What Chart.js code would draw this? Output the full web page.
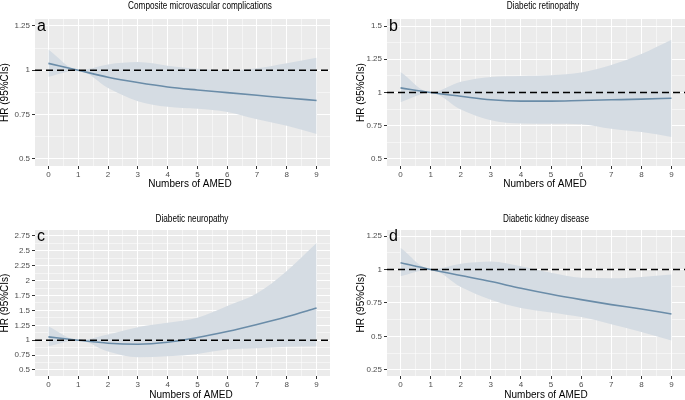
<!DOCTYPE html>
<html>
<head>
<meta charset="utf-8">
<script src="https://cdn.jsdelivr.net/npm/chart.js@4.4.1/dist/chart.umd.min.js"></script>
<style>
  body { margin: 0; background: #fff; width: 685px; height: 400px; position: relative; overflow: hidden; }
  canvas { position: absolute; }
</style>
</head>
<body>
<canvas id="panelA" width="342" height="200" style="left:0;top:0"></canvas>
<canvas id="panelB" width="343" height="200" style="left:342px;top:0"></canvas>
<canvas id="panelC" width="342" height="200" style="left:0;top:200px"></canvas>
<canvas id="panelD" width="343" height="200" style="left:342px;top:200px"></canvas>
<script>
// numbers of AMED (x) and x tick labels
const amed = [0, 1, 2, 3, 4, 5, 6, 7, 8, 9];
const xMajor = [0, 1, 2, 3, 4, 5, 6, 7, 8, 9];
const refLine = 1;

// a: composite microvascular complications
const hrA = [1.039, 1.0, 0.961, 0.931, 0.906, 0.889, 0.874, 0.859, 0.844, 0.830];
const upA = [1.117, 1.0, 1.033, 1.046, 1.026, 1.009, 1.0, 1.011, 1.039, 1.07];
const loA = [0.963, 1.0, 0.9, 0.826, 0.794, 0.783, 0.765, 0.724, 0.687, 0.641];
const yTicksA = [0.5, 0.75, 1, 1.25];

// b: diabetic retinopathy
const hrB = [1.035, 1.0, 0.972, 0.945, 0.935, 0.935, 0.94, 0.945, 0.95, 0.957];
const upB = [1.155, 1.0, 1.08, 1.117, 1.125, 1.13, 1.15, 1.207, 1.29, 1.397];
const loB = [0.927, 1.0, 0.872, 0.792, 0.767, 0.765, 0.762, 0.727, 0.702, 0.665];
const yTicksB = [0.5, 0.75, 1, 1.25, 1.5];

// c: diabetic neuropathy
const hrC = [1.056, 1.0, 0.95, 0.933, 0.966, 1.045, 1.146, 1.264, 1.393, 1.54];
const upC = [1.236, 1.0, 1.096, 1.219, 1.292, 1.376, 1.573, 1.787, 2.163, 2.63];
const loC = [0.9, 1.0, 0.809, 0.713, 0.73, 0.77, 0.843, 0.865, 0.888, 0.9];
const yTicksC = [0.5, 0.75, 1, 1.25, 1.5, 1.75, 2, 2.25, 2.5, 2.75];

// d: diabetic kidney disease
const hrD = [1.05, 1.0, 0.955, 0.91, 0.86, 0.815, 0.775, 0.738, 0.705, 0.668];
const upD = [1.163, 1.0, 1.043, 1.06, 1.025, 0.975, 0.938, 0.935, 0.945, 0.962];
const loD = [0.95, 1.0, 0.87, 0.775, 0.713, 0.68, 0.645, 0.592, 0.533, 0.47];
const yTicksD = [0.25, 0.5, 0.75, 1, 1.25];

Chart.defaults.font.family = "'Liberation Sans', Arial, sans-serif";
Chart.defaults.color = '#4d4d4d';

const lineColor = '#6a8ca8';
const ribbonColor = '#d5dce3';

function withMinor(majors) {
  const all = majors.slice();
  for (let i = 0; i < majors.length - 1; i++) all.push((majors[i] + majors[i + 1]) / 2);
  return all.sort((a, b) => a - b);
}

const xy = vals => amed.map((x, i) => ({ x: x, y: vals[i] }));

// grey panel, dashed HR=1 line, panel letter, narrow title and x axis title
const panelDecor = {
  id: 'panelDecor',
  beforeDraw(chart) {
    const { ctx, chartArea: a } = chart;
    ctx.save();
    ctx.fillStyle = '#ebebeb';
    ctx.fillRect(a.left, a.top, a.right - a.left, a.bottom - a.top);
    ctx.restore();
  },
  afterDatasetsDraw(chart, args, opts) {
    const { ctx, chartArea: a, scales } = chart;
    const y = scales.y.getPixelForValue(refLine);
    ctx.save();
    ctx.strokeStyle = '#000';
    ctx.lineWidth = 1.5;
    ctx.setLineDash([7, 4]);
    ctx.beginPath();
    ctx.moveTo(a.left, y);
    ctx.lineTo(a.right, y);
    ctx.stroke();
    ctx.setLineDash([]);
    ctx.fillStyle = '#000';
    ctx.font = "16px 'Liberation Sans', Arial, sans-serif";
    ctx.textBaseline = 'alphabetic';
    ctx.fillText(opts.letter, a.left + 2, scales.y.getPixelForValue(opts.top) + 5);

    ctx.textAlign = 'center';
    ctx.textBaseline = 'middle';
    ctx.font = "10px 'Liberation Sans', Arial, sans-serif";
    ctx.fillText('Numbers of AMED', opts.xTitleX, opts.xTitleY);

    // title, horizontally condensed like the original
    ctx.font = "10.5px 'Liberation Sans', Arial, sans-serif";
    ctx.translate(opts.titleX, opts.titleY);
    ctx.scale(0.78, 1);
    ctx.fillText(opts.title, 0, 0);
    ctx.restore();
  }
};

function makePanel(id, p) {
  const yAll = withMinor(p.yTicks);
  const xAll = withMinor(xMajor);
  const isMajor = (list, v) => list.some(m => Math.abs(m - v) < 1e-9);
  new Chart(document.getElementById(id), {
    type: 'line',
    data: {
      datasets: [
        { data: xy(p.hr), order: 0, borderColor: lineColor, borderWidth: 1.6, pointRadius: 0, fill: false, cubicInterpolationMode: 'monotone' },
        { data: xy(p.lo), order: 2, borderWidth: 0, pointRadius: 0, fill: false, cubicInterpolationMode: 'monotone' },
        { data: xy(p.up), order: 1, borderWidth: 0, pointRadius: 0, fill: '-1', backgroundColor: ribbonColor, cubicInterpolationMode: 'monotone' }
      ]
    },
    options: {
      responsive: false,
      animation: false,
      events: [],
      layout: { padding: { left: 0, right: p.padRight, top: p.plotTop, bottom: 0 } },
      plugins: {
        legend: { display: false },
        tooltip: { enabled: false },
        title: { display: false },
        panelDecor: {
          letter: p.letter,
          top: p.yTicks[p.yTicks.length - 1],
          title: p.title,
          titleX: p.titleX,
          titleY: p.titleY,
          xTitleX: p.xTitleX,
          xTitleY: p.xTitleY
        }
      },
      scales: {
        x: {
          type: 'linear',
          min: -0.45,
          max: 9.45,
          afterBuildTicks: s => { s.ticks = xAll.map(v => ({ value: v })); },
          afterFit: s => { s.height = p.xHeight; },
          border: { display: false },
          grid: {
            color: '#ffffff',
            lineWidth: c => isMajor(xMajor, c.tick.value) ? 1 : 0.5,
            tickColor: c => isMajor(xMajor, c.tick.value) ? '#333333' : 'rgba(0,0,0,0)',
            tickLength: 3,
            tickWidth: 1
          },
          ticks: {
            autoSkip: false,
            maxRotation: 0,
            padding: 1,
            font: { size: 8 },
            color: '#4d4d4d',
            callback: v => isMajor(xMajor, v) ? String(v) : ''
          },
          title: { display: false }
        },
        y: {
          type: 'linear',
          min: p.yMin,
          max: p.yMax,
          afterBuildTicks: s => { s.ticks = yAll.map(v => ({ value: v })); },
          afterFit: s => { s.width = p.yWidth; },
          border: { display: false },
          grid: {
            color: '#ffffff',
            lineWidth: c => isMajor(p.yTicks, c.tick.value) ? 1 : 0.5,
            tickColor: c => isMajor(p.yTicks, c.tick.value) ? '#333333' : 'rgba(0,0,0,0)',
            tickLength: 3,
            tickWidth: 1
          },
          ticks: {
            autoSkip: false,
            padding: 2,
            font: { size: 8 },
            color: '#4d4d4d',
            callback: v => isMajor(p.yTicks, v) ? String(v) : ''
          },
          title: {
            display: true,
            text: 'HR (95%CIs)',
            color: '#000',
            font: { size: 10, lineHeight: 1 },
            padding: { top: p.yTitleLeft, bottom: 0 }
          }
        }
      }
    },
    plugins: [panelDecor]
  });
}

makePanel('panelA', {
  title: 'Composite microvascular complications', letter: 'a', titleX: 200, titleY: 6,
  xTitleX: 190, xTitleY: 184,
  hr: hrA, up: upA, lo: loA, yTicks: yTicksA, yMin: 0.4605, yMax: 1.289,
  padRight: 12, plotTop: 19, yWidth: 35, xHeight: 34, yTitleLeft: 0
});
makePanel('panelB', {
  title: 'Diabetic retinopathy', letter: 'b', titleX: 201, titleY: 6,
  xTitleX: 203, xTitleY: 184,
  hr: hrB, up: upB, lo: loB, yTicks: yTicksB, yMin: 0.447, yMax: 1.553,
  padRight: 0, plotTop: 19, yWidth: 45, xHeight: 34, yTitleLeft: 14
});
makePanel('panelC', {
  title: 'Diabetic neuropathy', letter: 'c', titleX: 192, titleY: 19,
  xTitleX: 191, xTitleY: 195,
  hr: hrC, up: upC, lo: loC, yTicks: yTicksC, yMin: 0.399, yMax: 2.85,
  padRight: 12, plotTop: 30, yWidth: 35, xHeight: 24, yTitleLeft: 0
});
makePanel('panelD', {
  title: 'Diabetic kidney disease', letter: 'd', titleX: 204, titleY: 19,
  xTitleX: 204, xTitleY: 195,
  hr: hrD, up: upD, lo: loD, yTicks: yTicksD, yMin: 0.205, yMax: 1.295,
  padRight: 0, plotTop: 30, yWidth: 45, xHeight: 24, yTitleLeft: 14
});
</script>
</body>
</html>
